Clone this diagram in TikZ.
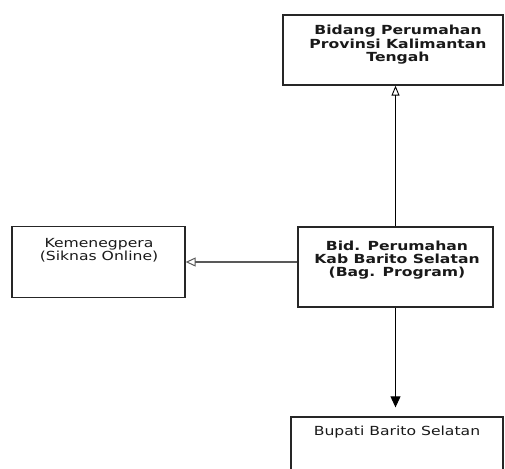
\documentclass[tikz,border=0pt]{standalone}
\usepackage{fontspec}
\usetikzlibrary{arrows.meta}
\newfontfamily\boxfont[FakeStretch=1.25]{DejaVu Sans}

\begin{document}
\begin{tikzpicture}[x=1pt,y=-1pt,
  unit/.style={draw=black!85,line width=1.3pt,rectangle,inner sep=0pt},
  unittext/.style={inner sep=0pt,align=center,text=black!90,font=\boxfont\fontsize{12.5}{13.4}\selectfont},
  flow/.style={line width=0.9pt,black}]
\useasboundingbox (0,0) rectangle (505,468);

\node[unit,minimum width=220pt,minimum height=70pt] (Prov) at (393,50) {};
\node[unit,minimum width=173pt,minimum height=71pt] (Kem) at (98.5,262) {};
\node[unit,minimum width=195pt,minimum height=80pt] (Kab) at (395.5,267) {};
\node[unit,minimum width=212pt,minimum height=90pt] (Bup) at (397,462) {};

\node[unittext] (ProvT) at (398,45) {\bfseries Bidang Perumahan\\\bfseries Provinsi Kalimantan\\\bfseries Tengah};
\node[unittext] (KemT) at (99,250) {Kemenegpera\\(Siknas Online)};
\node[unittext] (KabT) at (397,260) {\bfseries Bid. Perumahan\\\bfseries Kab Barito Selatan\\\bfseries (Bag. Program)};
\node[unittext] (BupT) at (397,432) {Bupati Barito Selatan};

\path[flow,-{Triangle[open,width=8pt,length=10pt]}] (Kab.north) edge [] (Kab.north |- Prov.south);
\path[line width=2pt,black!65,-{Triangle[open,width=9pt,length=10pt,line width=1pt]}] (Kab.west |- Kem.east) edge [] (Kem.east);
\path[flow,-{Triangle[width=10pt,length=11pt]},shorten >=9pt] (Kab.south) edge [] (Kab.south |- Bup.north);

\end{tikzpicture}
\end{document}
